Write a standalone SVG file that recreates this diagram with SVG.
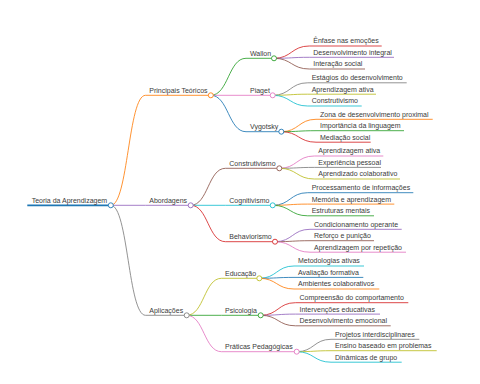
<svg xmlns="http://www.w3.org/2000/svg" width="480" height="384" viewBox="0 0 480 384">
<style>
text{font-family:"Liberation Sans",Arial,sans-serif;font-size:7px;fill:#3a3a3a}
.l{fill:none;stroke-width:0.85}
.n{stroke-width:0.85}
circle{fill:#fff;stroke-width:0.9}
</style>
<rect width="480" height="384" fill="#fff"/>
<g id="connectors">
<path class="l" stroke="#ff7f0e" d="M110.8,205.3C128.2,205.3 128.2,95.3 145.5,95.3"/>
<path class="l" stroke="#9467bd" d="M110.8,205.3L145.5,205.3"/>
<path class="l" stroke="#7f7f7f" d="M110.8,205.3C128.2,205.3 128.2,315.3 145.5,315.3"/>
<path class="l" stroke="#2ca02c" d="M210.8,95.3C228.4,95.3 228.4,58.3 246,58.3"/>
<path class="l" stroke="#e377c2" d="M210.8,95.3L246,95.3"/>
<path class="l" stroke="#1f77b4" d="M210.8,95.3C228.4,95.3 228.4,131.7 246,131.7"/>
<path class="l" stroke="#8c564b" d="M190.7,205.3C208.1,205.3 208.1,168.3 225.5,168.3"/>
<path class="l" stroke="#17becf" d="M190.7,205.3L225.5,205.3"/>
<path class="l" stroke="#d62728" d="M190.7,205.3C208.1,205.3 208.1,241.7 225.5,241.7"/>
<path class="l" stroke="#bcbd22" d="M186.7,315.3C204.1,315.3 204.1,278.3 221.5,278.3"/>
<path class="l" stroke="#2ca02c" d="M186.7,315.3L221.5,315.3"/>
<path class="l" stroke="#e377c2" d="M186.7,315.3C204.1,315.3 204.1,351.7 221.5,351.7"/>
<path class="l" stroke="#d62728" d="M274,58.3C291.6,58.3 291.6,46 309.3,46"/>
<path class="l" stroke="#9467bd" d="M274,58.3C291.6,58.3 291.6,57.3 309.3,57.3"/>
<path class="l" stroke="#8c564b" d="M274,58.3C291.6,58.3 291.6,69 309.3,69"/>
<path class="l" stroke="#7f7f7f" d="M272.7,95.3C290.2,95.3 290.2,82.8 307.7,82.8"/>
<path class="l" stroke="#bcbd22" d="M272.7,95.3C290.2,95.3 290.2,94.2 307.7,94.2"/>
<path class="l" stroke="#17becf" d="M272.7,95.3C290.2,95.3 290.2,106 307.7,106"/>
<path class="l" stroke="#ff7f0e" d="M281.3,131.7C298.7,131.7 298.7,119.3 316,119.3"/>
<path class="l" stroke="#2ca02c" d="M281.3,131.7C298.7,131.7 298.7,130.7 316,130.7"/>
<path class="l" stroke="#d62728" d="M281.3,131.7C298.7,131.7 298.7,142.2 316,142.2"/>
<path class="l" stroke="#e377c2" d="M279.3,168.3C296.8,168.3 296.8,156 314.3,156"/>
<path class="l" stroke="#7f7f7f" d="M279.3,168.3C296.8,168.3 296.8,167.4 314.3,167.4"/>
<path class="l" stroke="#bcbd22" d="M279.3,168.3C296.8,168.3 296.8,179 314.3,179"/>
<path class="l" stroke="#1f77b4" d="M272.7,205.3C290.2,205.3 290.2,192.7 307.7,192.7"/>
<path class="l" stroke="#ff7f0e" d="M272.7,205.3C290.2,205.3 290.2,204.1 307.7,204.1"/>
<path class="l" stroke="#2ca02c" d="M272.7,205.3C290.2,205.3 290.2,215.8 307.7,215.8"/>
<path class="l" stroke="#9467bd" d="M275,241.7C292.5,241.7 292.5,229.3 310,229.3"/>
<path class="l" stroke="#8c564b" d="M275,241.7C292.5,241.7 292.5,240.7 310,240.7"/>
<path class="l" stroke="#e377c2" d="M275,241.7C292.5,241.7 292.5,252.2 310,252.2"/>
<path class="l" stroke="#17becf" d="M259.3,278.3C276.7,278.3 276.7,266 294,266"/>
<path class="l" stroke="#1f77b4" d="M259.3,278.3C276.7,278.3 276.7,277.4 294,277.4"/>
<path class="l" stroke="#ff7f0e" d="M259.3,278.3C276.7,278.3 276.7,289 294,289"/>
<path class="l" stroke="#d62728" d="M260.7,315.3C278.1,315.3 278.1,302.7 295.5,302.7"/>
<path class="l" stroke="#9467bd" d="M260.7,315.3C278.1,315.3 278.1,314.1 295.5,314.1"/>
<path class="l" stroke="#8c564b" d="M260.7,315.3C278.1,315.3 278.1,325.8 295.5,325.8"/>
<path class="l" stroke="#7f7f7f" d="M296.7,351.7C313.9,351.7 313.9,339.3 331,339.3"/>
<path class="l" stroke="#bcbd22" d="M296.7,351.7C313.9,351.7 313.9,350.7 331,350.7"/>
<path class="l" stroke="#17becf" d="M296.7,351.7C313.9,351.7 313.9,362.2 331,362.2"/>
</g>
<g id="root"><line x1="27.3" y1="205.3" x2="110.8" y2="205.3" stroke="#1f77b4" stroke-width="1.8"/><circle cx="110.8" cy="205.3" r="2.5" stroke="#1f77b4"/><text x="31.7" y="202.7">Teoria da Aprendizagem</text></g>
<g id="principais"><line class="n" x1="145.5" y1="95.3" x2="210.8" y2="95.3" stroke="#ff7f0e"/><circle cx="210.8" cy="95.3" r="2.5" stroke="#ff7f0e"/><text x="149.3" y="92.7">Principais Teóricos</text></g>
<g id="abordagens"><line class="n" x1="145.5" y1="205.3" x2="190.7" y2="205.3" stroke="#9467bd"/><circle cx="190.7" cy="205.3" r="2.5" stroke="#9467bd"/><text x="149.3" y="202.7">Abordagens</text></g>
<g id="aplicacoes"><line class="n" x1="145.5" y1="315.3" x2="186.7" y2="315.3" stroke="#7f7f7f"/><circle cx="186.7" cy="315.3" r="2.5" stroke="#7f7f7f"/><text x="149.3" y="312.7">Aplicações</text></g>
<g id="wallon"><line class="n" x1="246" y1="58.3" x2="274" y2="58.3" stroke="#2ca02c"/><circle cx="274" cy="58.3" r="2.5" stroke="#2ca02c"/><text x="250" y="55.7">Wallon</text></g>
<g id="piaget"><line class="n" x1="246" y1="95.3" x2="272.7" y2="95.3" stroke="#e377c2"/><circle cx="272.7" cy="95.3" r="2.5" stroke="#e377c2"/><text x="250" y="92.7">Piaget</text></g>
<g id="vygotsky"><line class="n" x1="246" y1="131.7" x2="281.3" y2="131.7" stroke="#1f77b4"/><circle cx="281.3" cy="131.7" r="2.5" stroke="#1f77b4"/><text x="250" y="129.1">Vygotsky</text></g>
<g id="construtivismo"><line class="n" x1="225.5" y1="168.3" x2="279.3" y2="168.3" stroke="#8c564b"/><circle cx="279.3" cy="168.3" r="2.5" stroke="#8c564b"/><text x="229.3" y="165.7">Construtivismo</text></g>
<g id="cognitivismo"><line class="n" x1="225.5" y1="205.3" x2="272.7" y2="205.3" stroke="#17becf"/><circle cx="272.7" cy="205.3" r="2.5" stroke="#17becf"/><text x="229.3" y="202.7">Cognitivismo</text></g>
<g id="behaviorismo"><line class="n" x1="225.5" y1="241.7" x2="275" y2="241.7" stroke="#d62728"/><circle cx="275" cy="241.7" r="2.5" stroke="#d62728"/><text x="229.3" y="239.1">Behaviorismo</text></g>
<g id="educacao"><line class="n" x1="221.5" y1="278.3" x2="259.3" y2="278.3" stroke="#bcbd22"/><circle cx="259.3" cy="278.3" r="2.5" stroke="#bcbd22"/><text x="225" y="275.7">Educação</text></g>
<g id="psicologia"><line class="n" x1="221.5" y1="315.3" x2="260.7" y2="315.3" stroke="#2ca02c"/><circle cx="260.7" cy="315.3" r="2.5" stroke="#2ca02c"/><text x="225" y="312.7">Psicologia</text></g>
<g id="praticas"><line class="n" x1="221.5" y1="351.7" x2="296.7" y2="351.7" stroke="#e377c2"/><circle cx="296.7" cy="351.7" r="2.5" stroke="#e377c2"/><text x="225" y="349.1">Práticas Pedagógicas</text></g>
<g id="w1"><line class="n" x1="309.3" y1="46" x2="381.7" y2="46" stroke="#d62728"/><text x="313.3" y="43.4">Ênfase nas emoções</text></g>
<g id="w2"><line class="n" x1="309.3" y1="57.3" x2="394" y2="57.3" stroke="#9467bd"/><text x="313.3" y="54.7">Desenvolvimento integral</text></g>
<g id="w3"><line class="n" x1="309.3" y1="69" x2="365" y2="69" stroke="#8c564b"/><text x="313.3" y="66.4">Interação social</text></g>
<g id="p1"><line class="n" x1="307.7" y1="82.8" x2="406.7" y2="82.8" stroke="#7f7f7f"/><text x="311.7" y="80.2">Estágios do desenvolvimento</text></g>
<g id="p2"><line class="n" x1="307.7" y1="94.2" x2="376" y2="94.2" stroke="#bcbd22"/><text x="311.7" y="91.6">Aprendizagem ativa</text></g>
<g id="p3"><line class="n" x1="307.7" y1="106" x2="361.7" y2="106" stroke="#17becf"/><text x="311.7" y="103.4">Construtivismo</text></g>
<g id="v1"><line class="n" x1="316" y1="119.3" x2="432.7" y2="119.3" stroke="#ff7f0e"/><text x="320" y="116.7">Zona de desenvolvimento proximal</text></g>
<g id="v2"><line class="n" x1="316" y1="130.7" x2="404" y2="130.7" stroke="#2ca02c"/><text x="320" y="128.1">Importância da linguagem</text></g>
<g id="v3"><line class="n" x1="316" y1="142.2" x2="370.7" y2="142.2" stroke="#d62728"/><text x="320" y="139.6">Mediação social</text></g>
<g id="c1"><line class="n" x1="314.3" y1="156" x2="383.3" y2="156" stroke="#e377c2"/><text x="318.3" y="153.4">Aprendizagem ativa</text></g>
<g id="c2"><line class="n" x1="314.3" y1="167.4" x2="381" y2="167.4" stroke="#7f7f7f"/><text x="318.3" y="164.8">Experiência pessoal</text></g>
<g id="c3"><line class="n" x1="314.3" y1="179" x2="400" y2="179" stroke="#bcbd22"/><text x="318.3" y="176.4">Aprendizado colaborativo</text></g>
<g id="g1"><line class="n" x1="307.7" y1="192.7" x2="413.3" y2="192.7" stroke="#1f77b4"/><text x="311.7" y="190.1">Processamento de informações</text></g>
<g id="g2"><line class="n" x1="307.7" y1="204.1" x2="394.3" y2="204.1" stroke="#ff7f0e"/><text x="311.7" y="201.5">Memória e aprendizagem</text></g>
<g id="g3"><line class="n" x1="307.7" y1="215.8" x2="374" y2="215.8" stroke="#2ca02c"/><text x="311.7" y="213.2">Estruturas mentais</text></g>
<g id="b1"><line class="n" x1="310" y1="229.3" x2="401.7" y2="229.3" stroke="#9467bd"/><text x="314" y="226.7">Condicionamento operante</text></g>
<g id="b2"><line class="n" x1="310" y1="240.7" x2="374" y2="240.7" stroke="#8c564b"/><text x="314" y="238.1">Reforço e punição</text></g>
<g id="b3"><line class="n" x1="310" y1="252.2" x2="406" y2="252.2" stroke="#e377c2"/><text x="314" y="249.6">Aprendizagem por repetição</text></g>
<g id="e1"><line class="n" x1="294" y1="266" x2="364" y2="266" stroke="#17becf"/><text x="298" y="263.4">Metodologias ativas</text></g>
<g id="e2"><line class="n" x1="294" y1="277.4" x2="363.3" y2="277.4" stroke="#1f77b4"/><text x="298" y="274.8">Avaliação formativa</text></g>
<g id="e3"><line class="n" x1="294" y1="289" x2="379.3" y2="289" stroke="#ff7f0e"/><text x="298" y="286.4">Ambientes colaborativos</text></g>
<g id="s1"><line class="n" x1="295.5" y1="302.7" x2="408.3" y2="302.7" stroke="#d62728"/><text x="299.5" y="300.1">Compreensão do comportamento</text></g>
<g id="s2"><line class="n" x1="295.5" y1="314.1" x2="380" y2="314.1" stroke="#9467bd"/><text x="299.5" y="311.5">Intervenções educativas</text></g>
<g id="s3"><line class="n" x1="295.5" y1="325.8" x2="390.7" y2="325.8" stroke="#8c564b"/><text x="299.5" y="323.2">Desenvolvimento emocional</text></g>
<g id="r1"><line class="n" x1="331" y1="339.3" x2="419.3" y2="339.3" stroke="#7f7f7f"/><text x="335" y="336.7">Projetos interdisciplinares</text></g>
<g id="r2"><line class="n" x1="331" y1="350.7" x2="436.7" y2="350.7" stroke="#bcbd22"/><text x="335" y="348.1">Ensino baseado em problemas</text></g>
<g id="r3"><line class="n" x1="331" y1="362.2" x2="401.7" y2="362.2" stroke="#17becf"/><text x="335" y="359.6">Dinâmicas de grupo</text></g>
</svg>
